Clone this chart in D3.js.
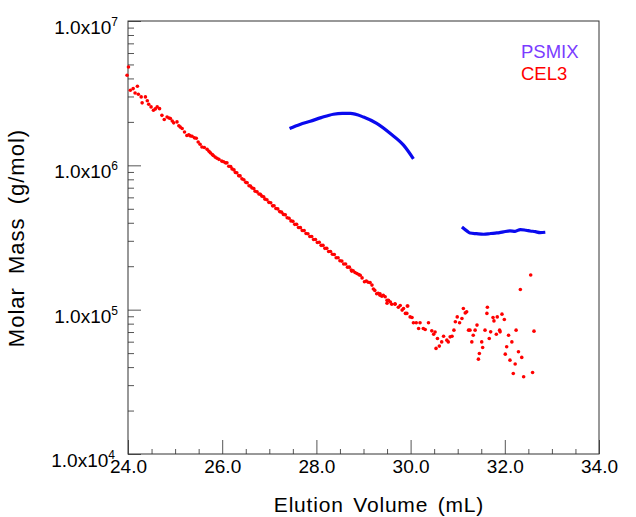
<!DOCTYPE html>
<html>
<head>
<meta charset="utf-8">
<script src="https://cdn.jsdelivr.net/npm/d3@7"></script>
<style>
  body { margin: 0; background: #fff; }
  text { font-family: "Liberation Sans", Arial, sans-serif; }
</style>
</head>
<body>
<div id="chart"></div>
<script>
// axis values
const xTicks = [24, 26, 28, 30, 32, 34];
const yTicks = [1e4, 1e5, 1e6, 1e7];
const legendNames = ["PSMIX", "CEL3"];

// PSMIX (blue), two peaks
const psVolume1 = [27.43, 27.65, 27.87, 28.1, 28.36, 28.55, 28.72, 29.0, 29.28, 29.57, 29.85, 30.06];
const psMass1 = [1.80e6, 1.92e6, 2.02e6, 2.14e6, 2.26e6, 2.29e6, 2.29e6, 2.16e6, 1.95e6, 1.66e6, 1.38e6, 1.11e6];
const psVolume2 = [31.09, 31.2, 31.26, 31.4, 31.55, 31.7, 31.83, 31.97, 32.11, 32.22, 32.33, 32.45, 32.54, 32.65, 32.75, 32.86];
const psMass2 = [3.74e5, 3.50e5, 3.40e5, 3.36e5, 3.33e5, 3.37e5, 3.40e5, 3.46e5, 3.51e5, 3.49e5, 3.59e5, 3.55e5, 3.51e5, 3.47e5, 3.42e5, 3.44e5];

// CEL3 (red dots)
const celVolume = [
  23.98, 24.01, 24.05, 24.11, 24.15, 24.20, 24.22, 24.28, 24.30, 24.37,
  24.41, 24.44, 24.49, 24.54, 24.58, 24.62, 24.67, 24.72, 24.77, 24.83,
  24.87, 24.90, 24.94, 24.97, 25.04, 25.08, 25.11, 25.15, 25.20, 25.25,
  25.29, 25.32, 25.36, 25.41, 25.45, 25.49, 25.53, 25.57, 25.62, 25.68,
  25.72, 25.75, 25.79, 25.81, 25.85, 25.89, 25.93, 25.99, 26.03, 26.07,
  26.10, 26.14, 26.18, 26.21, 26.25, 26.28, 26.31, 26.35, 26.38, 26.42,
  26.46, 26.50, 26.53, 26.57, 26.60, 26.63, 26.67, 26.70, 26.74, 26.78,
  26.81, 26.84, 26.88, 26.91, 26.95, 26.99, 27.03, 27.07, 27.10, 27.14,
  27.18, 27.22, 27.26, 27.30, 27.34, 27.38, 27.42, 27.46, 27.50, 27.54,
  27.58, 27.62, 27.66, 27.70, 27.74, 27.78, 27.82, 27.86, 27.90, 27.94,
  27.98, 28.02, 28.06, 28.10, 28.14, 28.18, 28.22, 28.26, 28.30, 28.34,
  28.38, 28.42, 28.46, 28.50, 28.54, 28.58, 28.62, 28.66, 28.70, 28.74,
  28.75, 28.78, 28.82, 28.86, 28.90, 28.93, 28.97, 29.02, 29.06, 29.10,
  29.14, 29.18, 29.21, 29.24, 29.28, 29.31, 29.35, 29.35, 29.39, 29.42,
  29.46, 29.50, 29.50, 29.53, 29.57, 29.60, 29.67, 29.67, 29.74, 29.78,
  29.82, 29.85, 29.89, 29.92, 29.93, 29.94, 29.99, 30.03, 30.06, 30.12,
  30.17, 30.20, 30.27, 30.31, 30.38, 30.45, 30.49, 30.52, 30.54, 30.57,
  30.61, 30.66, 30.70, 30.77, 30.80, 30.84, 30.88, 30.92, 30.95, 30.99,
  31.04, 31.09, 31.12, 31.16, 31.19, 31.23, 31.26, 31.30, 31.33, 31.37,
  31.41, 31.44, 31.46, 31.51, 31.53, 31.58, 31.62, 31.63, 31.67, 31.70,
  31.75, 31.77, 31.82, 31.84, 31.89, 31.90, 31.94, 31.99, 32.01, 32.04,
  32.08, 32.11, 32.15, 32.18, 32.22, 32.24, 32.29, 32.33, 32.36, 32.40,
  32.55, 32.59, 32.62
];
const celMass = [
  4.21e6, 4.80e6, 3.31e6, 3.40e6, 3.17e6, 3.53e6, 3.11e6, 2.98e6, 2.71e6, 2.98e6,
  2.80e6, 2.65e6, 2.54e6, 2.41e6, 2.46e6, 2.54e6, 2.47e6, 2.22e6, 2.08e6, 2.16e6,
  2.13e6, 2.11e6, 2.03e6, 1.97e6, 2.00e6, 1.88e6, 1.84e6, 1.80e6, 1.70e6, 1.61e6,
  1.63e6, 1.60e6, 1.59e6, 1.55e6, 1.54e6, 1.45e6, 1.40e6, 1.34e6, 1.33e6, 1.29e6,
  1.25e6, 1.22e6, 1.19e6, 1.17e6, 1.14e6, 1.12e6, 1.10e6, 1.07e6, 1.06e6, 1.04e6,
  1.04e6, 9.85e5, 9.80e5, 9.45e5, 9.30e5, 8.92e5, 8.88e5, 8.48e5, 8.45e5, 8.06e5,
  7.95e5, 7.62e5, 7.58e5, 7.22e5, 7.20e5, 6.98e5, 6.90e5, 6.62e5, 6.55e5, 6.33e5,
  6.30e5, 6.12e5, 6.05e5, 5.83e5, 5.78e5, 5.54e5, 5.50e5, 5.24e5, 5.25e5, 5.02e5,
  4.99e5, 4.78e5, 4.74e5, 4.57e5, 4.54e5, 4.33e5, 4.30e5, 4.12e5, 4.09e5, 3.90e5,
  3.90e5, 3.71e5, 3.70e5, 3.54e5, 3.53e5, 3.37e5, 3.36e5, 3.21e5, 3.21e5, 3.06e5,
  3.06e5, 2.92e5, 2.93e5, 2.79e5, 2.79e5, 2.66e5, 2.66e5, 2.53e5, 2.53e5, 2.42e5,
  2.41e5, 2.29e5, 2.29e5, 2.18e5, 2.17e5, 2.07e5, 2.07e5, 1.97e5, 1.97e5, 1.88e5,
  1.85e5, 1.86e5, 1.81e5, 1.78e5, 1.75e5, 1.73e5, 1.66e5, 1.56e5, 1.58e5, 1.55e5,
  1.54e5, 1.48e5, 1.39e5, 1.36e5, 1.29e5, 1.30e5, 1.26e5, 1.29e5, 1.24e5, 1.26e5,
  1.23e5, 1.16e5, 1.11e5, 1.16e5, 1.13e5, 1.09e5, 1.10e5, 1.09e5, 1.04e5, 1.07e5,
  9.93e4, 1.02e5, 9.42e4, 9.42e4, 1.06e5, 1.06e5, 8.91e4, 8.83e4, 8.11e4, 8.11e4,
  7.41e4, 8.11e4, 7.41e4, 7.29e4, 8.11e4, 7.13e4, 6.76e4, 7.01e4, 5.39e4, 6.32e4,
  5.59e4, 5.98e4, 6.55e4, 6.15e4, 5.98e4, 6.48e4, 6.55e4, 7.21e4, 8.24e4, 8.91e4,
  8.11e4, 8.69e4, 1.02e5, 9.50e4, 9.66e4, 7.21e4, 7.21e4, 5.98e4, 6.65e4, 7.21e4,
  7.82e4, 4.54e4, 4.97e4, 5.98e4, 5.47e4, 7.21e4, 9.42e4, 1.04e5, 6.32e4, 7.02e4,
  8.83e4, 8.36e4, 6.76e4, 8.91e4, 7.21e4, 7.02e4, 9.31e4, 8.55e4, 4.92e4, 5.53e4,
  6.65e4, 4.47e4, 5.98e4, 3.61e4, 4.20e4, 7.21e4, 5.11e4, 1.38e5, 4.67e4, 3.43e4,
  1.74e5, 3.67e4, 7.10e4
];

const margin = { top: 21, right: 37, bottom: 63, left: 128 },
    width = 636 - margin.left - margin.right,
    height = 517 - margin.top - margin.bottom;

const svg = d3.select("#chart")
    .append("svg")
    .attr("width", 636)
    .attr("height", 517)
    .append("g")
    .attr("transform", `translate(${margin.left}, ${margin.top})`);

const xScale = d3.scaleLinear().domain([24, 34]).range([0, width]);
const yScale = d3.scaleLog().domain([1e4, 1e7]).range([height, 0]);

// minor ticks
const xMinor = d3.range(24.5, 34, 0.5).filter(d => d % 2 !== 0);
const yMinor = [];
yTicks.slice(0, 3).forEach(p => { for (let k = 2; k <= 9; k++) yMinor.push(p * k); });

svg.append("g")
    .attr("class", "x-minor")
    .attr("transform", "translate(0," + height + ")")
    .call(d3.axisBottom(xScale).tickValues(xMinor).tickSize(-5).tickFormat(""));

svg.append("g")
    .attr("class", "x-axis")
    .attr("transform", "translate(0," + height + ")")
    .call(d3.axisBottom(xScale).tickValues(xTicks).tickSize(-14).tickPadding(6).tickFormat(d3.format(".1f")))
    .selectAll("text")
    .style("font-size", "19px")
    .style("fill", "#000");

svg.append("g")
    .attr("class", "y-minor")
    .call(d3.axisLeft(yScale).tickValues(yMinor).tickSize(-6).tickFormat(""));

svg.append("g")
    .attr("class", "y-axis")
    .call(d3.axisLeft(yScale).tickValues(yTicks).tickSize(-13).tickFormat(""));

svg.selectAll(".domain").remove();
svg.selectAll(".tick line").style("stroke", "#555");

// y labels with superscript
const yLab = svg.append("g").selectAll("text")
    .data(yTicks)
    .join("text")
    .attr("x", d => d === 1e4 ? -13 : -10)
    .attr("y", d => yScale(d) + 13)
    .attr("text-anchor", "end")
    .style("font-size", "19px");
yLab.append("tspan").text("1.0x10");
yLab.append("tspan")
    .attr("dy", -8)
    .style("font-size", "12px")
    .text(d => Math.round(Math.log10(d)));

// frame
svg.append("rect")
    .attr("width", width)
    .attr("height", height)
    .style("fill", "none")
    .style("stroke", "#333")
    .style("stroke-width", 1);

// PSMIX lines
const line = d3.line()
    .x(d => xScale(d[0]))
    .y(d => yScale(d[1]))
    .curve(d3.curveMonotoneX);

[[psVolume1, psMass1], [psVolume2, psMass2]].forEach(([vx, vy]) => {
    svg.append("path")
        .datum(vx.map((v, i) => [v, vy[i]]))
        .style("fill", "none")
        .style("stroke", "#0a0aee")
        .style("stroke-width", 3.2)
        .attr("d", line);
});

// CEL3 dots
svg.append("g")
    .selectAll("circle")
    .data(celVolume.map((v, i) => [v, celMass[i]]))
    .join("circle")
    .attr("cx", d => xScale(d[0]))
    .attr("cy", d => yScale(d[1]))
    .attr("r", 1.8)
    .style("fill", "#ff0000");

// legend
svg.append("g").selectAll("text")
    .data(legendNames)
    .join("text")
    .attr("x", 393)
    .attr("y", (d, i) => 37 + i * 22)
    .style("font-size", "18.5px")
    .style("fill", (d, i) => i === 0 ? "#7a3cff" : "#ff0000")
    .text(d => d);

// axis titles
svg.append("text")
    .attr("x", 251)
    .attr("y", 491)
    .attr("text-anchor", "middle")
    .style("font-size", "21px")
    .style("letter-spacing", "0.8px")
    .style("word-spacing", "3px")
    .text("Elution Volume (mL)");

svg.append("text")
    .attr("transform", "translate(-104," + 217 + ") rotate(-90)")
    .attr("text-anchor", "middle")
    .style("font-size", "22px")
    .style("letter-spacing", "1px")
    .style("word-spacing", "6px")
    .text("Molar Mass (g/mol)");
</script>
</body>
</html>
